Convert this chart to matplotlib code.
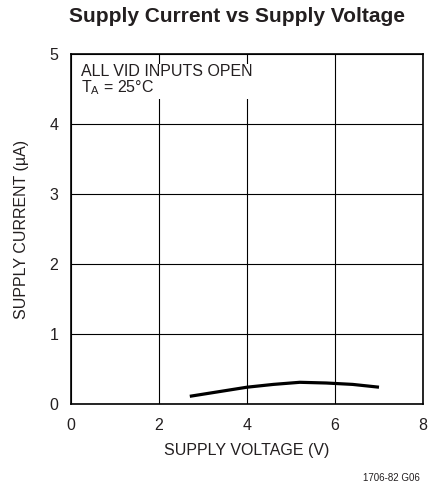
import matplotlib
matplotlib.use("Agg")
import matplotlib.pyplot as plt
from matplotlib import font_manager as fm

voltage = [2.7, 3.2, 4.0, 4.6, 5.2, 5.8, 6.4, 7.0]
current = [0.11, 0.16, 0.24, 0.28, 0.31, 0.30, 0.28, 0.24]
x_ticks = [0, 2, 4, 6, 8]
y_ticks = [0, 1, 2, 3, 4, 5]

names = {f.name for f in fm.fontManager.ttflist}
narrow = 'Liberation Sans Narrow' if 'Liberation Sans Narrow' in names else 'Liberation Sans'
plt.rcParams['font.family'] = [narrow, 'DejaVu Sans']

fig = plt.figure(figsize=(4.39, 4.94), dpi=100)
ax = fig.add_axes([71/439, 1 - 404/494, 352/439, 350/494])
ax.plot(voltage, current, color='black', lw=2.3, solid_capstyle='butt')
ax.set_xlim(0, 8)
ax.set_ylim(0, 5)
ax.set_xticks(x_ticks)
ax.set_yticks(y_ticks)
ax.grid(True, color='black', lw=0.8)
ax.tick_params(length=0, labelsize=11.5, colors='#231f20')
ax.tick_params(axis='x', pad=10)
ax.tick_params(axis='y', pad=9)
for s in ax.spines.values():
    s.set_linewidth(1.2)
ax.set_xlabel('SUPPLY VOLTAGE (V)', fontsize=11.5, labelpad=7, color='#231f20')
ax.set_ylabel('SUPPLY CURRENT (\u00b5A)', fontsize=11.5, labelpad=15, color='#231f20')
ax.text(0.22, 4.86, 'ALL VID INPUTS OPEN\n$\\mathregular{T_A}$ = 25\u00b0C', fontsize=11.5,
        va='top', ha='left', color='#231f20', linespacing=1.0,
        bbox=dict(facecolor='white', edgecolor='none', pad=1))
fig.text(237/439, 1 - 17/494, 'Supply Current vs Supply Voltage', fontsize=15,
         fontweight='bold', ha='center', va='center', color='#231f20')
fig.text(420/439, 1 - 478/494, '1706-82 G06', fontsize=7, ha='right', va='center', color='#231f20')
fig.savefig('out.png', dpi=100)
